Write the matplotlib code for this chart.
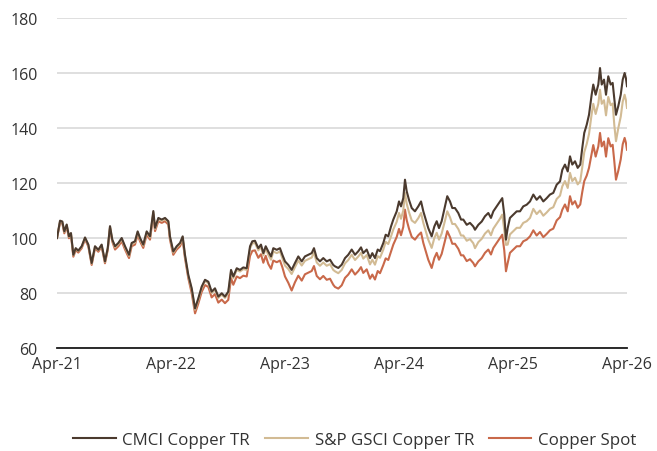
import matplotlib
matplotlib.use("Agg")
import matplotlib.pyplot as plt

# x: months since Apr-2021
months = [
    0.0, 0.32, 0.56, 0.77, 1.02, 1.26, 1.47, 1.72, 1.97, 2.24, 2.6, 2.95, 3.3, 3.65, 4.0, 4.35, 4.7,
    5.05, 5.34, 5.58, 5.82, 6.11, 6.46, 6.81, 7.16, 7.58, 7.86, 8.21, 8.49, 8.74, 9.08, 9.44, 9.79,
    10.14, 10.32, 10.67, 11.02, 11.37, 11.72, 11.89, 12.24, 12.6, 12.95, 13.23, 13.47, 13.82, 14.18, 14.53,
    14.87, 15.23, 15.58, 15.93, 16.28, 16.63, 16.98, 17.34, 17.68, 18.03, 18.32, 18.56, 18.92, 19.26, 19.61,
    19.97, 20.32, 20.56, 20.84, 21.19, 21.47, 21.72, 21.97, 22.24, 22.53, 22.77, 23.13, 23.47, 23.72,
    24.0, 24.35, 24.7, 25.05, 25.4, 25.76, 26.1, 26.45, 26.81, 27.05, 27.34, 27.68, 28.03, 28.39, 28.74, 29.08,
    29.26, 29.61, 29.97, 30.32, 30.66, 31.02, 31.37, 31.72, 32.0, 32.24, 32.6, 32.95, 33.19, 33.47, 33.76,
    34.0, 34.35, 34.6, 34.87, 35.16, 35.4, 35.76, 36.0, 36.21, 36.45, 36.63, 36.81, 37.05, 37.34, 37.68,
    38.03, 38.32, 38.56, 38.81, 39.08, 39.44, 39.72, 39.97, 40.21, 40.49, 40.84, 41.08, 41.37, 41.61,
    41.89, 42.24, 42.53, 42.77, 43.13, 43.47, 43.82,
    44.0, 44.35, 44.71, 45.05, 45.4, 45.68, 45.93, 46.28, 46.63, 46.87, 47.08, 47.26, 47.44, 47.68, 48.03,
    48.39, 48.74, 49.08, 49.44, 49.79, 50.14, 50.49, 50.84, 51.19, 51.55, 51.89, 52.24, 52.6, 52.95, 53.19,
    53.47, 53.76, 54.0, 54.24, 54.53, 54.81, 55.08, 55.29, 55.5, 55.76, 56.0, 56.28, 56.45, 56.7, 56.98,
    57.16, 57.34, 57.58, 57.79, 58.03, 58.28, 58.49, 58.66, 58.84, 59.08, 59.34, 59.55, 59.75, 59.88, 60.0,
]

cmci = [
    100, 106.3, 106.0, 102.4, 104.9, 100.6, 101.8, 93.9, 96.3, 95.4, 97.0, 100.2, 97.6, 90.9, 97.0, 95.7, 97.6,
    91.5, 96.3, 104.3, 99.4, 97.0, 98.2, 100.0, 97.0, 93.9, 98.2, 98.8, 102.4, 100.0, 97.6, 102.4, 100.6,
    109.8, 103.7, 107.3, 106.7, 107.3, 106.1, 100.6, 95.1, 97.0, 98.2, 100.6, 93.9, 86.6, 81.7, 74.4,
    78.0, 82.3, 84.8, 84.1, 80.5, 81.7, 78.7, 79.9, 78.7, 80.5, 88.4, 86.0, 89.0, 88.4, 89.3,
    89.0, 97.0, 98.8, 99.0, 96.3, 97.6, 94.5, 97.0, 95.1, 93.3, 96.3, 95.7, 96.3, 93.9,
    91.5, 90.2, 88.4, 90.9, 93.3, 91.5, 93.3, 93.9, 94.5, 96.3, 92.7, 91.5, 92.7, 91.5, 92.1, 90.2,
    89.7, 89.1, 90.3, 92.7, 93.9, 95.8, 93.9, 95.2, 96.6, 94.5, 95.8, 92.7, 94.5, 92.7, 95.8,
    95.2, 98.2, 101.2, 100.6, 104.2, 106.7, 109.7, 113.3, 111.5, 114.5, 121.2, 117.0, 113.9, 110.9, 109.7,
    111.5, 113.3, 109.7, 106.7, 103.6, 100.6, 104.2, 106.1, 103.6, 106.1, 111.5, 115.2, 113.3, 110.9,
    110.9, 109.1, 106.7, 106.7, 104.8, 105.5, 104.2,
    103.0, 104.8, 106.0, 107.9, 109.1, 107.3, 109.7, 111.5, 113.3, 114.5, 108.5, 99.4, 103.6, 107.3, 108.5,
    109.7, 109.7, 111.5, 112.1, 113.3, 115.8, 113.9, 115.2, 113.3, 114.5, 115.8, 116.4, 119.4, 120.6, 124.8,
    126.7, 124.2, 129.7, 126.7, 127.9, 125.5, 126.7, 132.7, 138.2, 141.2, 144.8, 152.1, 155.8, 152.1, 155.8,
    161.8, 155.8, 157.6, 152.1, 158.8, 155.8, 156.4, 150.9, 144.8, 147.9, 152.1, 157.6, 160.0, 158.2, 155.2,
]

gsci = [
    100, 106.1, 105.8, 102.2, 104.7, 100.4, 101.6, 93.7, 96.1, 95.2, 96.8, 100.0, 97.4, 90.7, 96.8, 95.5, 97.4,
    91.3, 96.1, 104.1, 99.2, 96.6, 97.8, 99.6, 96.6, 93.5, 97.8, 98.4, 102.0, 99.6, 97.2, 102.0, 100.2,
    109.4, 103.3, 106.9, 106.3, 106.9, 105.7, 100.2, 94.7, 96.6, 97.8, 100.2, 93.5, 86.2, 81.2, 73.9,
    77.5, 81.8, 84.3, 83.6, 80.0, 81.2, 78.2, 79.4, 78.2, 79.9, 87.8, 85.4, 88.4, 87.8, 88.7,
    88.4, 96.2, 98.0, 98.2, 95.5, 96.8, 93.7, 96.2, 93.9, 92.1, 95.1, 94.5, 95.1, 92.7,
    90.0, 88.7, 86.9, 89.4, 91.8, 90.0, 91.7, 92.3, 92.9, 94.7, 91.1, 89.9, 91.1, 89.9, 90.5, 88.4,
    87.9, 87.2, 88.4, 90.8, 92.0, 93.9, 92.0, 93.3, 94.6, 92.5, 93.8, 90.4, 92.1, 90.3, 93.4,
    92.8, 95.8, 98.6, 97.8, 100.6, 103.1, 105.9, 109.1, 107.0, 110.0, 116.4, 112.5, 109.4, 106.4, 105.5,
    107.2, 109.1, 105.5, 102.5, 99.4, 96.4, 100.0, 101.9, 99.4, 101.6, 106.3, 109.7, 107.5, 105.1,
    105.1, 103.3, 100.9, 100.9, 99.0, 99.6, 98.1,
    96.3, 98.5, 99.7, 101.6, 102.8, 101.0, 103.4, 105.2, 107.0, 108.5, 103.0, 97.5, 97.6, 101.3, 102.5,
    103.7, 103.7, 105.5, 106.1, 107.3, 110.6, 108.7, 110.0, 108.1, 109.3, 110.6, 111.2, 114.2, 115.4, 118.8,
    120.7, 118.2, 123.7, 120.7, 121.9, 119.5, 120.7, 125.7, 131.2, 134.2, 137.8, 145.1, 148.8, 145.1, 148.8,
    153.9, 148.8, 150.1, 144.6, 151.3, 148.3, 148.9, 141.2, 135.2, 139.9, 144.1, 149.6, 152.1, 150.2, 147.3,
]

spot = [
    100, 105.6, 105.3, 101.7, 104.2, 99.9, 101.1, 93.2, 95.6, 94.7, 96.3, 99.5, 96.9, 90.2, 96.3, 95.0, 96.9,
    90.8, 95.6, 103.6, 98.7, 95.8, 97.0, 98.8, 95.8, 92.7, 97.0, 97.6, 101.2, 98.8, 96.4, 101.2, 99.4,
    108.6, 102.5, 106.1, 105.5, 106.1, 104.9, 99.4, 93.9, 95.8, 97.0, 99.4, 92.7, 85.4, 79.9, 72.6,
    76.1, 80.4, 82.9, 82.2, 78.4, 79.6, 76.5, 77.6, 76.3, 77.5, 85.4, 83.0, 86.0, 85.4, 86.3,
    86.0, 93.5, 95.3, 95.5, 92.8, 94.1, 91.0, 93.5, 90.6, 88.8, 91.8, 91.2, 91.8, 89.4,
    86.0, 83.7, 80.9, 83.9, 86.3, 84.5, 86.8, 87.4, 88.0, 89.8, 86.2, 85.0, 86.2, 84.8, 85.2, 83.0,
    82.2, 81.6, 82.8, 85.5, 86.7, 88.6, 86.7, 88.0, 89.4, 87.3, 88.6, 85.2, 86.7, 84.9, 88.0,
    87.2, 90.2, 92.6, 92.0, 95.1, 97.6, 100.4, 103.3, 101.0, 104.0, 110.3, 106.5, 103.4, 100.4, 99.4,
    101.0, 102.0, 98.2, 95.2, 92.1, 89.1, 92.7, 94.6, 92.1, 94.2, 99.0, 102.5, 100.3, 97.9,
    97.9, 96.1, 93.7, 93.7, 91.6, 92.3, 90.9,
    89.7, 91.5, 92.7, 94.6, 95.8, 94.0, 96.4, 98.2, 100.0, 101.2, 95.5, 87.9, 90.9, 94.6, 95.8,
    97.0, 97.0, 98.8, 99.4, 100.6, 102.8, 100.9, 102.2, 100.3, 101.5, 102.8, 103.4, 106.4, 107.6, 110.3,
    112.2, 109.7, 115.2, 112.2, 113.4, 111.0, 112.2, 116.7, 120.7, 122.7, 125.5, 130.6, 133.8, 129.6, 133.3,
    138.2, 133.3, 135.1, 129.6, 136.3, 133.3, 133.9, 128.0, 121.2, 124.4, 128.6, 134.1, 136.4, 134.7, 132.1,
]

tick_months = [0, 12, 24, 36, 48, 60]
tick_labels = ["Apr-21", "Apr-22", "Apr-23", "Apr-24", "Apr-25", "Apr-26"]
y_ticks = [60, 80, 100, 120, 140, 160, 180]
series_names = ["CMCI Copper TR", "S&P GSCI Copper TR", "Copper Spot"]

plt.rcParams['font.family'] = ['Open Sans', 'DejaVu Sans']
text_color = '#333333'

fig = plt.figure(figsize=(6.57, 4.52), dpi=100)
ax = fig.add_axes([57/657, 103/452, 570/657, 330/452])

c_dark = '#4b3a2e'
c_tan = '#d2bb94'
c_red = '#c9694a'
lw = 1.5
l3, = ax.plot(months, spot, color=c_red, lw=lw, zorder=3)
l2, = ax.plot(months, gsci, color=c_tan, lw=lw, zorder=4)
l1, = ax.plot(months, cmci, color=c_dark, lw=lw, zorder=5)

ax.set_xlim(0, 60)
ax.set_ylim(60, 180)
ax.set_yticks(y_ticks)
ax.set_xticks(tick_months)
ax.set_xticklabels(tick_labels)
ax.yaxis.grid(True, color='#d9d9d9', lw=1.2)
ax.set_axisbelow(True)
for s in ['top', 'right', 'left']:
    ax.spines[s].set_visible(False)
ax.spines['bottom'].set_color('#1a1a1a')
ax.spines['bottom'].set_linewidth(1.3)
ax.spines['bottom'].set_zorder(6)
ax.tick_params(axis='both', length=0, labelsize=11.5, colors=text_color)
ax.tick_params(axis='y', pad=14)
ax.tick_params(axis='x', pad=6)

fig.legend([l1, l2, l3], series_names, loc='center', bbox_to_anchor=(355/657, 1 - 441/452),
           ncol=3, frameon=False, fontsize=12.2, handlelength=2.5, handletextpad=0.4,
           columnspacing=0.9, labelcolor=text_color)

fig.savefig('out.png', dpi=100)
